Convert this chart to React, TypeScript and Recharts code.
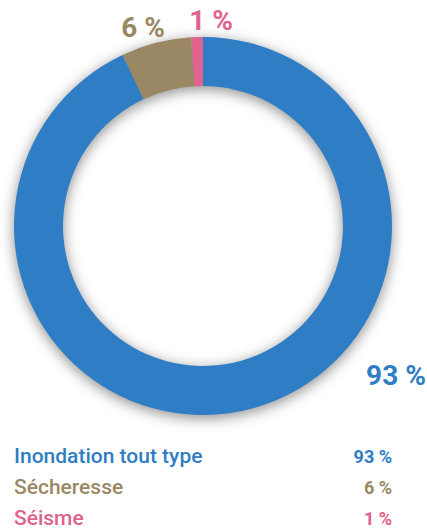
import React from 'react'
import { PieChart, Pie, Cell } from 'recharts'

// Répartition des arrêtés par type de risque
const categories = ['Séisme', 'Sécheresse', 'Inondation tout type']
const values = [1, 6, 93]
const colors = ['#E0628F', '#9A8865', '#2F7DC4']
// legend is listed largest first
const legendOrder = [2, 1, 0]

const chartData = categories.map((name, i) => ({ name, value: values[i] }))

// label offsets from the pie centre (px), per slice
const labelOffsets = [
  { dx: 8, dy: -196 },
  { dx: -60, dy: -189 },
  { dx: 193, dy: 159 },
]

const FONT = 'Roboto, "Noto Sans", sans-serif'

const renderLabel = (props: any) => {
  const { cx, cy, index, value } = props
  const off = labelOffsets[index]
  return (
    <text
      x={cx + off.dx}
      y={cy + off.dy}
      textAnchor="middle"
      fill={colors[index]}
      fontFamily={FONT}
      fontWeight={700}
      fontSize={28}
    >
      {value} %
    </text>
  )
}

export default function App() {
  return (
    <div style={{ position: 'absolute', left: 0, top: 0, width: 427, height: 529, background: '#fff', overflow: 'hidden' }}>
      <PieChart width={427} height={440} margin={{ top: 0, right: 0, bottom: 0, left: 0 }}>
        {/* soft shadow under the ring */}
        <Pie
          data={[{ name: 'shadow', value: 1 }]}
          dataKey="value"
          cx={203}
          cy={229}
          innerRadius={140}
          outerRadius={189}
          stroke="none"
          isAnimationActive={false}
          label={false}
        >
          <Cell fill="rgba(0,0,0,0.45)" style={{ filter: 'blur(7px)' }} />
        </Pie>
        <Pie
          data={chartData}
          dataKey="value"
          nameKey="name"
          cx={203}
          cy={226}
          innerRadius={140}
          outerRadius={189}
          startAngle={90}
          endAngle={450}
          paddingAngle={0}
          stroke="none"
          isAnimationActive={false}
          labelLine={false}
          label={renderLabel}
        >
          {chartData.map((d, i) => (
            <Cell key={d.name} fill={colors[i]} />
          ))}
        </Pie>
      </PieChart>

      {/* Legend */}
      <div style={{ position: 'absolute', left: 14, top: 441, width: 378, fontFamily: FONT }}>
        {legendOrder.map((i) => (
          <div
            key={categories[i]}
            style={{ display: 'flex', justifyContent: 'space-between', alignItems: 'baseline', height: 31, lineHeight: '31px', color: colors[i] }}
          >
            <span style={{ fontSize: 21, fontWeight: 500 }}>{categories[i]}</span>
            <span style={{ fontSize: 18, fontWeight: 700 }}>{values[i]} %</span>
          </div>
        ))}
      </div>
    </div>
  )
}
